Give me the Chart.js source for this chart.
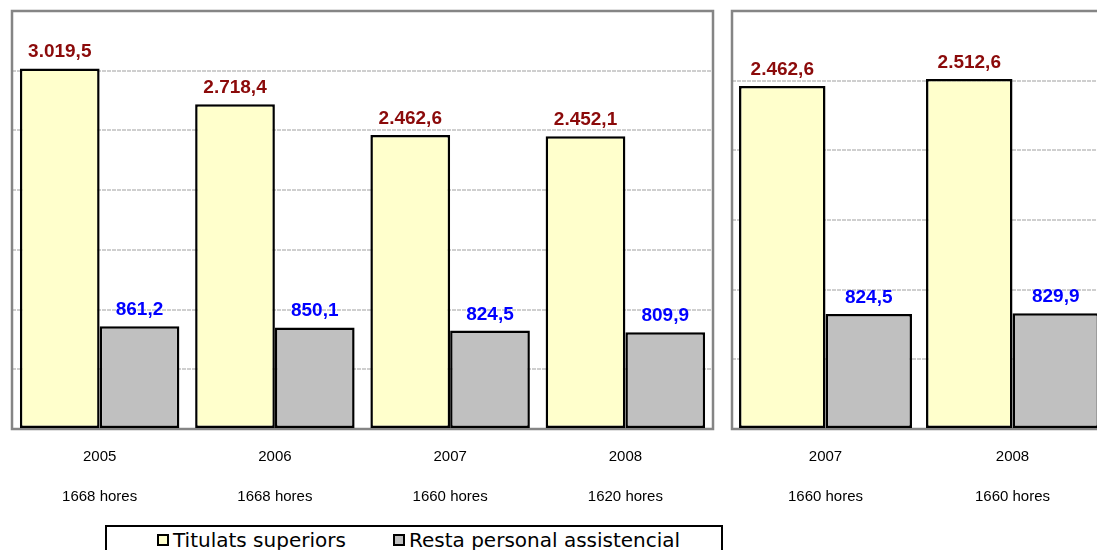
<!DOCTYPE html>
<html>
<head>
<meta charset="utf-8">
<script src="https://cdn.jsdelivr.net/npm/chart.js@4/dist/chart.umd.min.js"></script>
<style>
  html, body { margin:0; padding:0; background:#fff; }
  body { width:1097px; height:550px; overflow:hidden; position:relative; }
  #c1 { position:absolute; left:0; top:0; }
  #c2 { position:absolute; left:720px; top:0; }
  #legend { position:absolute; left:105px; top:525px; width:618px; height:40px; border:2px solid #000; box-sizing:border-box; background:#fff;
            font-family:"DejaVu Sans", sans-serif; font-size:20px; color:#000; }
  .item { position:absolute; top:2px; white-space:nowrap; line-height:23px; }
  .mk { display:inline-block; width:8px; height:8px; border:2px solid #000; margin-right:4px; vertical-align:1px; }
</style>
</head>
<body>
<canvas id="c1" width="730" height="519"></canvas>
<canvas id="c2" width="400" height="519"></canvas>
<div id="legend">
  <span class="item" style="left:50px"><span class="mk" style="background:#FFFFCC"></span>Titulats superiors</span>
  <span class="item" style="left:286px"><span class="mk" style="background:#C0C0C0"></span>Resta personal assistencial</span>
</div>
<script>
// ---- data ----
const years1 = ["2005", "2006", "2007", "2008"];
const hours1 = ["1668 hores", "1668 hores", "1660 hores", "1620 hores"];
const titulats1 = [3019.5, 2718.4, 2462.6, 2452.1];
const resta1 = [861.2, 850.1, 824.5, 809.9];

const years2 = ["2007", "2008"];
const hours2 = ["1660 hores", "1660 hores"];
const titulats2 = [2462.6, 2512.6];
const resta2 = [824.5, 829.9];

const seriesNames = ["Titulats superiors", "Resta personal assistencial"];
const yMax1 = 3500, yMax2 = 3000, yStep = 500;

// ---- helpers ----
function fmt(v) {
  const parts = v.toFixed(1).split('.');
  return parts[0].replace(/\B(?=(\d{3})+(?!\d))/g, '.') + ',' + parts[1];
}
const labelColors = ['#8B0A0A', '#0000FF'];

const valueLabels = {
  id: 'valueLabels',
  afterDatasetsDraw(chart) {
    const ctx = chart.ctx;
    ctx.save();
    ctx.font = 'bold 19px "Liberation Sans", Arial, sans-serif';
    ctx.textAlign = 'center';
    ctx.textBaseline = 'alphabetic';
    chart.data.datasets.forEach((ds, di) => {
      const meta = chart.getDatasetMeta(di);
      ctx.fillStyle = labelColors[di];
      meta.data.forEach((bar, i) => {
        ctx.fillText(fmt(ds.data[i]), bar.x, bar.y - 11);
      });
    });
    ctx.restore();
  }
};
const frame = {
  id: 'frame',
  beforeDatasetsDraw(chart) {
    const a = chart.chartArea, ctx = chart.ctx;
    ctx.save();
    ctx.strokeStyle = '#858585';
    ctx.lineWidth = 2.5;
    ctx.strokeRect(a.left, a.top, a.right - a.left, a.bottom - a.top);
    ctx.restore();
  }
};

function makeChart(id, years, hours, tit, res, yMax, pad, catPct) {
  return new Chart(document.getElementById(id), {
    type: 'bar',
    data: {
      labels: years.map((y, i) => [y, hours[i]]),
      datasets: [
        { label: seriesNames[0], data: tit, backgroundColor: '#FFFFCC', borderColor: '#000', borderWidth: 2.5, borderSkipped: false },
        { label: seriesNames[1], data: res, backgroundColor: '#C0C0C0', borderColor: '#000', borderWidth: 2.5, borderSkipped: false }
      ]
    },
    options: {
      responsive: false,
      animation: false,
      layout: { padding: pad },
      datasets: { bar: { categoryPercentage: catPct, barPercentage: 1.0 } },
      plugins: { legend: { display: false }, tooltip: { enabled: false } },
      scales: {
        x: {
          grid: { display: false },
          border: { display: false },
          ticks: {
            color: '#000',
            font: { family: '"Liberation Sans", Arial, sans-serif', size: 15, lineHeight: 2.67 },
            padding: 0,
            maxRotation: 0
          },
          afterFit: (s) => { s.height = 90; }
        },
        y: {
          min: 0, max: yMax,
          ticks: { display: false, stepSize: yStep },
          grid: { color: '#CFCFCF', lineWidth: 2, drawTicks: false },
          border: { display: false, dash: [4, 1] }
        }
      }
    },
    plugins: [frame, valueLabels]
  });
}

makeChart('c1', years1, hours1, titulats1, resta1, yMax1, { left: 12, right: 17, top: 11, bottom: 0 }, 0.91);
makeChart('c2', years2, hours2, titulats2, resta2, yMax2, { left: 12, right: 14, top: 11, bottom: 0 }, 0.925);
</script>
</body>
</html>
